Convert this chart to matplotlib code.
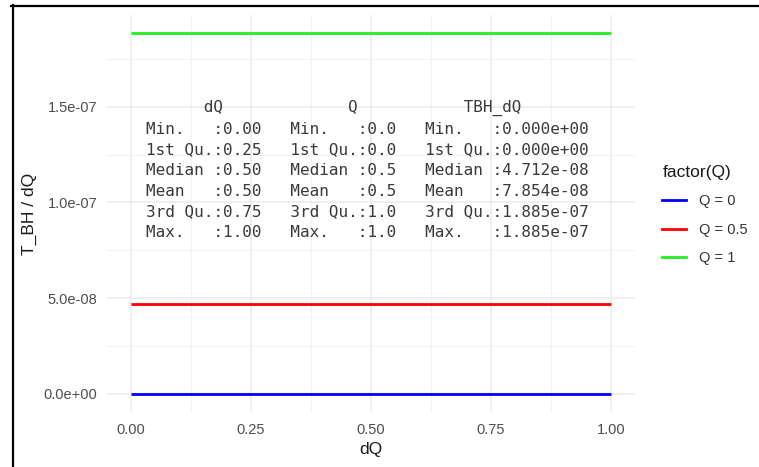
import matplotlib
matplotlib.use("Agg")
import matplotlib.pyplot as plt
from matplotlib.ticker import FixedLocator
from matplotlib.lines import Line2D

plt.rcParams["font.family"] = ["Liberation Sans", "DejaVu Sans"]

# Data: T_BH/dQ against dQ, one constant series per charge Q
dq = [0.0, 0.25, 0.5, 0.75, 1.0]
q_levels = [0, 0.5, 1]
tbh_dq = {
    0: [0.0, 0.0, 0.0, 0.0, 0.0],
    0.5: [4.712e-08, 4.712e-08, 4.712e-08, 4.712e-08, 4.712e-08],
    1: [1.885e-07, 1.885e-07, 1.885e-07, 1.885e-07, 1.885e-07],
}
series_colors = {0: "#0000FF", 0.5: "#FF0000", 1: "#22EE22"}
legend_labels = ["Q = 0", "Q = 0.5", "Q = 1"]

x_ticks = [0.0, 0.25, 0.5, 0.75, 1.0]
x_tick_labels = ["0.00", "0.25", "0.50", "0.75", "1.00"]
y_ticks = [0.0, 5e-08, 1e-07, 1.5e-07]
y_tick_labels = ["0.0e+00", "5.0e-08", "1.0e-07", "1.5e-07"]

# summary() printout shown inside the panel
summary_lines = [
    "      dQ             Q           TBH_dQ       ",
    "Min.   :0.00   Min.   :0.0   Min.   :0.000e+00",
    "1st Qu.:0.25   1st Qu.:0.0   1st Qu.:0.000e+00",
    "Median :0.50   Median :0.5   Median :4.712e-08",
    "Mean   :0.50   Mean   :0.5   Mean   :7.854e-08",
    "3rd Qu.:0.75   3rd Qu.:1.0   3rd Qu.:1.885e-07",
    "Max.   :1.00   Max.   :1.0   Max.   :1.885e-07",
]

W, H = 759, 467
fig = plt.figure(figsize=(W / 100, H / 100), dpi=100)
fig.patch.set_facecolor("white")

ax = fig.add_axes([107 / W, 1 - 412 / H, 528 / W, 397 / H])
ax.set_facecolor("white")
for s in ax.spines.values():
    s.set_visible(False)

for q in q_levels:
    ax.plot(dq, tbh_dq[q], color=series_colors[q], lw=2.0, solid_capstyle="butt", zorder=3)

ymax = max(max(v) for v in tbh_dq.values())
ymin = min(min(v) for v in tbh_dq.values())
yr = ymax - ymin
ax.set_xlim(-0.05, 1.05)
ax.set_ylim(ymin - 0.05 * yr, ymax + 0.05 * yr)

ax.xaxis.set_major_locator(FixedLocator(x_ticks))
ax.set_xticklabels(x_tick_labels)
ax.yaxis.set_major_locator(FixedLocator(y_ticks))
ax.set_yticklabels(y_tick_labels)
ax.xaxis.set_minor_locator(FixedLocator([0.125, 0.375, 0.625, 0.875]))
ax.yaxis.set_minor_locator(FixedLocator([2.5e-08, 7.5e-08, 1.25e-07, 1.75e-07]))

ax.grid(which="major", color="#EBEBEB", lw=1.1, zorder=0)
ax.grid(which="minor", color="#F3F3F3", lw=0.8, zorder=0)
ax.set_axisbelow(True)
ax.tick_params(which="both", length=0)
ax.tick_params(axis="y", pad=7, labelsize=10.5, labelcolor="#4D4D4D")
ax.tick_params(axis="x", pad=8, labelsize=10.5, labelcolor="#4D4D4D")

ax.set_xlabel("dQ", fontsize=12.5, color="#1A1A1A")
ax.set_ylabel("T_BH / dQ", fontsize=12.5, color="#1A1A1A")
ax.xaxis.set_label_coords(0.5, -0.095)
ax.yaxis.set_label_coords(-0.146, 0.5)
ax.xaxis.label.set_va("center")
ax.yaxis.label.set_va("center")

ax.text(0.493, 1.17e-07, "\n".join(summary_lines), family="DejaVu Sans Mono",
        fontsize=11.55, color="#3A3A3A", ha="center", va="center",
        linespacing=1.46, zorder=4)

handles = [Line2D([], [], color=series_colors[q], lw=2.0) for q in q_levels]
leg = fig.legend(handles, legend_labels, title="factor(Q)", loc="center left",
                 bbox_to_anchor=(655 / W, 1 - 215 / H), frameon=False,
                 fontsize=10.5, title_fontsize=12.5, handlelength=1.6,
                 handletextpad=0.9, labelspacing=0.98, borderpad=0,
                 alignment="left")
for t in leg.get_texts():
    t.set_color("#333333")
leg.get_title().set_color("#1A1A1A")

# frame drawn around the top and left edges of the image
fig.add_artist(Line2D([11 / W, 1.0], [1 - 5.5 / H, 1 - 5.5 / H], color="black", lw=1.6,
                      transform=fig.transFigure))
fig.add_artist(Line2D([12.5 / W, 12.5 / W], [0.0, 1 - 5 / H], color="black", lw=1.6,
                      transform=fig.transFigure))

fig.savefig("out.png", dpi=100)
